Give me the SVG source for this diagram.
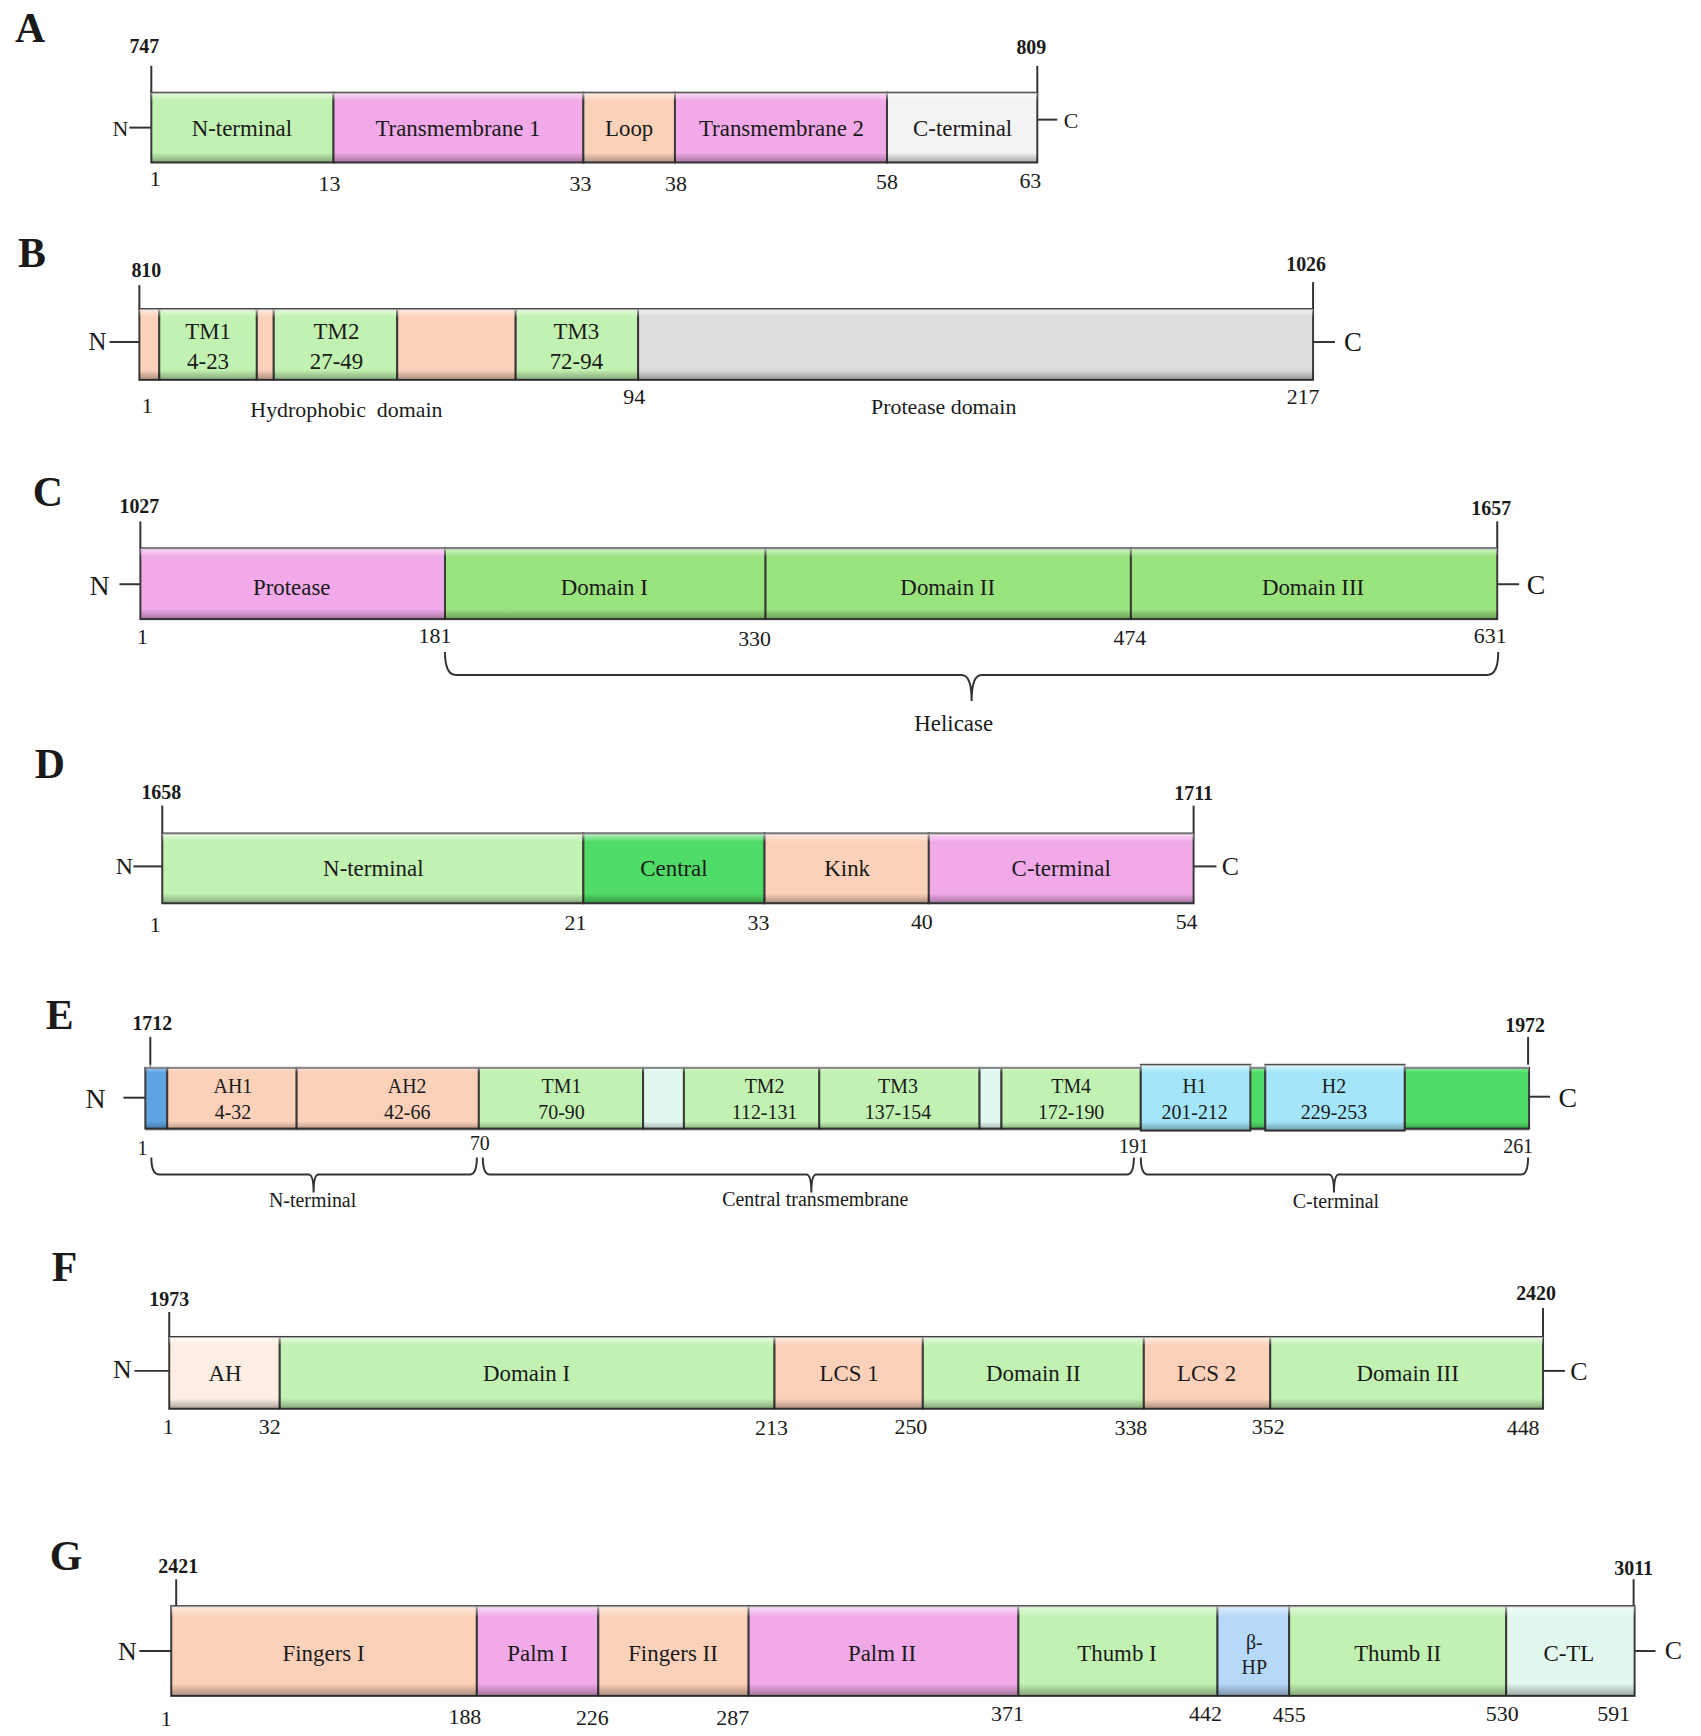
<svg xmlns="http://www.w3.org/2000/svg" width="1701" height="1736" viewBox="0 0 1701 1736">
<defs>
<linearGradient id="bevel" x1="0" y1="0" x2="0" y2="1">
<stop offset="0" stop-color="#ffffff" stop-opacity="0.6"/>
<stop offset="0.12" stop-color="#ffffff" stop-opacity="0"/>
<stop offset="0.86" stop-color="#000000" stop-opacity="0"/>
<stop offset="1" stop-color="#000000" stop-opacity="0.32"/>
</linearGradient>
<style>
text{font-family:"Liberation Serif","Times New Roman",serif;fill:#1a1a1a}
.seg{stroke:#3a3a3a;stroke-width:2}
.bev{fill:url(#bevel);stroke:none}
.ln{stroke:#333;stroke-width:2;fill:none}
.lbl{font-size:23px;text-anchor:middle}
.lbl-s{font-size:20px;text-anchor:middle}
.num{font-size:22px;text-anchor:middle}
.top{font-size:20px;font-weight:bold;text-anchor:middle}
.let{font-size:42px;font-weight:bold}
.nc{text-anchor:middle}
.grn{fill:#c1f2b1}
.pink{fill:#f1a9e9}
.peach{fill:#fcd1b9}
.white{fill:#f3f3f3}
.gray{fill:#dddddd}
.cgrn{fill:#9ae47e}
.dgrn{fill:#4fdc66}
.blue{fill:#5ea3e2}
.pale{fill:#e2f8ee}
.cyan{fill:#a3e6fa}
.lpeach{fill:#fdeee4}
.lblue{fill:#b6d9f9}
</style>
</defs>
<rect x="0" y="0" width="1701" height="1736" fill="#ffffff"/>
<g id="diagram" transform="scale(0.9955 0.997)">

<!-- Panel letters -->
<g id="letters">
<text class="let" x="15" y="42">A</text>
<text class="let" x="18" y="268">B</text>
<text class="let" x="33" y="508">C</text>
<text class="let" x="35" y="780">D</text>
<text class="let" x="46" y="1032">E</text>
<text class="let" x="52" y="1285">F</text>
<text class="let" x="50" y="1575">G</text>
</g>

<!-- Connectors: ticks, terminal lines, braces -->
<g id="connectors">
<line class="ln" x1="152" y1="66" x2="152" y2="93"/>
<line class="ln" x1="1042" y1="66" x2="1042" y2="93"/>
<line class="ln" x1="130" y1="128" x2="152" y2="128"/>
<line class="ln" x1="1042" y1="120" x2="1062" y2="120"/>

<line class="ln" x1="140" y1="286" x2="140" y2="310"/>
<line class="ln" x1="1319" y1="283" x2="1319" y2="310"/>
<line class="ln" x1="110" y1="343" x2="140" y2="343"/>
<line class="ln" x1="1319" y1="343" x2="1341" y2="343"/>

<line class="ln" x1="141" y1="523" x2="141" y2="550"/>
<line class="ln" x1="1504" y1="523" x2="1504" y2="550"/>
<line class="ln" x1="120" y1="586" x2="141" y2="586"/>
<line class="ln" x1="1504" y1="586" x2="1526" y2="586"/>
<path class="ln" d="M447 654 Q447 677 458 677 H966 Q976 677 976 703 Q976 677 986 677 H1494 Q1505 677 1505 654"/>

<line class="ln" x1="163" y1="808" x2="163" y2="836"/>
<line class="ln" x1="1199" y1="808" x2="1199" y2="836"/>
<line class="ln" x1="134" y1="869" x2="163" y2="869"/>
<line class="ln" x1="1199" y1="869" x2="1222" y2="869"/>

<line class="ln" x1="151" y1="1040" x2="151" y2="1071"/>
<line class="ln" x1="1535" y1="1040" x2="1535" y2="1068"/>
<line class="ln" x1="124" y1="1101" x2="146" y2="1101"/>
<line class="ln" x1="1536" y1="1100" x2="1557" y2="1100"/>
<path class="ln" d="M152 1161 Q152 1178 160 1178 H310 Q315 1178 315 1196 Q315 1178 320 1178 H472 Q479 1178 479 1161"/>
<path class="ln" d="M485 1161 Q485 1178 492 1178 H810 Q815 1178 815 1196 Q815 1178 820 1178 H1132 Q1139 1178 1139 1161"/>
<path class="ln" d="M1146 1161 Q1146 1178 1153 1178 H1335 Q1340 1178 1340 1196 Q1340 1178 1345 1178 H1528 Q1535 1178 1535 1161"/>

<line class="ln" x1="170" y1="1316" x2="170" y2="1341"/>
<line class="ln" x1="1550" y1="1312" x2="1550" y2="1341"/>
<line class="ln" x1="135" y1="1375" x2="170" y2="1375"/>
<line class="ln" x1="1550" y1="1375" x2="1572" y2="1375"/>

<line class="ln" x1="177" y1="1584" x2="177" y2="1611"/>
<line class="ln" x1="1641" y1="1584" x2="1641" y2="1611"/>
<line class="ln" x1="140" y1="1656" x2="172" y2="1656"/>
<line class="ln" x1="1642" y1="1656" x2="1663" y2="1656"/>
</g>

<!-- ================= Panel A ================= -->
<g id="A-nterm"><rect class="seg grn" x="152" y="93" width="183" height="70"/><text class="lbl" x="243" y="136">N-terminal</text></g>
<g id="A-tm1"><rect class="seg pink" x="335" y="93" width="251" height="70"/><text class="lbl" x="460" y="136">Transmembrane 1</text></g>
<g id="A-loop"><rect class="seg peach" x="586" y="93" width="92" height="70"/><text class="lbl" x="632" y="136">Loop</text></g>
<g id="A-tm2"><rect class="seg pink" x="678" y="93" width="213" height="70"/><text class="lbl" x="785" y="136">Transmembrane 2</text></g>
<g id="A-cterm"><rect class="seg white" x="891" y="93" width="151" height="70"/><text class="lbl" x="967" y="136">C-terminal</text></g>
<rect class="bev" x="152" y="93" width="890" height="70"/>
<g id="A-labels">
<text class="top" x="145" y="53">747</text>
<text class="top" x="1036" y="54">809</text>
<text class="nc" style="font-size:22px" x="121" y="136">N</text>
<text class="nc" style="font-size:22px" x="1076" y="128">C</text>
<text class="num" x="156" y="187">1</text>
<text class="num" x="331" y="192">13</text>
<text class="num" x="583" y="192">33</text>
<text class="num" x="679" y="192">38</text>
<text class="num" x="891" y="190">58</text>
<text class="num" x="1035" y="189">63</text>
</g>

<!-- ================= Panel B ================= -->
<g id="B-p1"><rect class="seg peach" x="140" y="310" width="20" height="71"/></g>
<g id="B-tm1"><rect class="seg grn" x="160" y="310" width="98" height="71"/><text class="lbl" x="209" y="340">TM1</text><text class="lbl" x="209" y="370">4-23</text></g>
<g id="B-p2"><rect class="seg peach" x="258" y="310" width="17" height="71"/></g>
<g id="B-tm2"><rect class="seg grn" x="275" y="310" width="124" height="71"/><text class="lbl" x="338" y="340">TM2</text><text class="lbl" x="338" y="370">27-49</text></g>
<g id="B-p3"><rect class="seg peach" x="399" y="310" width="119" height="71"/></g>
<g id="B-tm3"><rect class="seg grn" x="518" y="310" width="123" height="71"/><text class="lbl" x="579" y="340">TM3</text><text class="lbl" x="579" y="370">72-94</text></g>
<g id="B-prot"><rect class="seg gray" x="641" y="310" width="678" height="71"/></g>
<rect class="bev" x="140" y="310" width="1179" height="71"/>
<g id="B-labels">
<text class="top" x="147" y="278">810</text>
<text class="top" x="1312" y="272">1026</text>
<text class="nc" style="font-size:25px" x="98" y="351">N</text>
<text class="nc" style="font-size:27px" x="1359" y="352">C</text>
<text class="num" x="148" y="414">1</text>
<text class="num" x="348" y="418" style="white-space:pre" xml:space="preserve">Hydrophobic  domain</text>
<text class="num" x="637" y="405">94</text>
<text class="num" x="948" y="415">Protease domain</text>
<text class="num" x="1309" y="405">217</text>
</g>

<!-- ================= Panel C ================= -->
<g id="C-prot"><rect class="seg pink" x="141" y="550" width="306" height="71"/><text class="lbl" x="293" y="597">Protease</text></g>
<g id="C-d1"><rect class="seg cgrn" x="447" y="550" width="322" height="71"/><text class="lbl" x="607" y="597">Domain I</text></g>
<g id="C-d2"><rect class="seg cgrn" x="769" y="550" width="367" height="71"/><text class="lbl" x="952" y="597">Domain II</text></g>
<g id="C-d3"><rect class="seg cgrn" x="1136" y="550" width="368" height="71"/><text class="lbl" x="1319" y="597">Domain III</text></g>
<rect class="bev" x="141" y="550" width="1363" height="71"/>
<g id="C-labels">
<text class="top" x="140" y="515">1027</text>
<text class="top" x="1498" y="517">1657</text>
<text class="nc" style="font-size:28px" x="100" y="597">N</text>
<text class="nc" style="font-size:28px" x="1543" y="596">C</text>
<text class="num" x="143" y="646">1</text>
<text class="num" x="437" y="645">181</text>
<text class="num" x="758" y="648">330</text>
<text class="num" x="1135" y="647">474</text>
<text class="num" x="1497" y="645">631</text>
<text class="num" style="font-size:23px" x="958" y="733">Helicase</text>
</g>

<!-- ================= Panel D ================= -->
<g id="D-nterm"><rect class="seg grn" x="163" y="836" width="423" height="70"/><text class="lbl" x="375" y="879">N-terminal</text></g>
<g id="D-central"><rect class="seg dgrn" x="586" y="836" width="182" height="70"/><text class="lbl" x="677" y="879">Central</text></g>
<g id="D-kink"><rect class="seg peach" x="768" y="836" width="165" height="70"/><text class="lbl" x="851" y="879">Kink</text></g>
<g id="D-cterm"><rect class="seg pink" x="933" y="836" width="266" height="70"/><text class="lbl" x="1066" y="879">C-terminal</text></g>
<rect class="bev" x="163" y="836" width="1036" height="70"/>
<g id="D-labels">
<text class="top" x="162" y="801">1658</text>
<text class="top" x="1199" y="802">1711</text>
<text class="nc" style="font-size:24px" x="125" y="877">N</text>
<text class="nc" style="font-size:26px" x="1236" y="878">C</text>
<text class="num" x="156" y="935">1</text>
<text class="num" x="578" y="933">21</text>
<text class="num" x="762" y="933">33</text>
<text class="num" x="926" y="932">40</text>
<text class="num" x="1192" y="932">54</text>
</g>

<!-- ================= Panel E ================= -->
<g id="E-blue"><rect class="seg blue" x="146" y="1071" width="22" height="61"/></g>
<g id="E-ah1"><rect class="seg peach" x="168" y="1071" width="130" height="61"/><text class="lbl-s" x="234" y="1096">AH1</text><text class="lbl-s" x="234" y="1122">4-32</text></g>
<g id="E-ah2"><rect class="seg peach" x="298" y="1071" width="183" height="61"/><text class="lbl-s" x="409" y="1096">AH2</text><text class="lbl-s" x="409" y="1122">42-66</text></g>
<g id="E-tm1"><rect class="seg grn" x="481" y="1071" width="165" height="61"/><text class="lbl-s" x="564" y="1096">TM1</text><text class="lbl-s" x="564" y="1122">70-90</text></g>
<g id="E-gap1"><rect class="seg pale" x="646" y="1071" width="41" height="61"/></g>
<g id="E-tm2"><rect class="seg grn" x="687" y="1071" width="136" height="61"/><text class="lbl-s" x="768" y="1096">TM2</text><text class="lbl-s" x="768" y="1122">112-131</text></g>
<g id="E-tm3"><rect class="seg grn" x="823" y="1071" width="161" height="61"/><text class="lbl-s" x="902" y="1096">TM3</text><text class="lbl-s" x="902" y="1122">137-154</text></g>
<g id="E-gap2"><rect class="seg pale" x="984" y="1071" width="22" height="61"/></g>
<g id="E-tm4"><rect class="seg grn" x="1006" y="1071" width="140" height="61"/><text class="lbl-s" x="1076" y="1096">TM4</text><text class="lbl-s" x="1076" y="1122">172-190</text></g>
<g id="E-green1"><rect class="seg dgrn" x="1146" y="1071" width="125" height="61"/></g>
<g id="E-green2"><rect class="seg dgrn" x="1411" y="1071" width="125" height="61"/></g>
<g id="E-h1"><rect class="seg cyan" x="1146" y="1068" width="110" height="66"/><text class="lbl-s" x="1200" y="1096">H1</text><text class="lbl-s" x="1200" y="1122">201-212</text></g>
<g id="E-h2"><rect class="seg cyan" x="1271" y="1068" width="140" height="66"/><text class="lbl-s" x="1340" y="1096">H2</text><text class="lbl-s" x="1340" y="1122">229-253</text></g>
<rect class="bev" x="146" y="1068" width="1390" height="66"/>
<g id="E-labels">
<text class="top" x="153" y="1033">1712</text>
<text class="top" x="1532" y="1035">1972</text>
<text class="nc" style="font-size:28px" x="96" y="1111">N</text>
<text class="nc" style="font-size:28px" x="1575" y="1110">C</text>
<text class="num" style="font-size:20px" x="143" y="1158">1</text>
<text class="num" style="font-size:20px" x="482" y="1153">70</text>
<text class="num" style="font-size:20px" x="1139" y="1156">191</text>
<text class="num" style="font-size:20px" x="1525" y="1156">261</text>
<text class="num" style="font-size:20px" x="314" y="1211">N-terminal</text>
<text class="num" style="font-size:20px" x="819" y="1210">Central transmembrane</text>
<text class="num" style="font-size:20px" x="1342" y="1212">C-terminal</text>
</g>

<!-- ================= Panel F ================= -->
<g id="F-ah"><rect class="seg lpeach" x="170" y="1341" width="111" height="72"/><text class="lbl" x="226" y="1385">AH</text></g>
<g id="F-d1"><rect class="seg grn" x="281" y="1341" width="497" height="72"/><text class="lbl" x="529" y="1385">Domain I</text></g>
<g id="F-lcs1"><rect class="seg peach" x="778" y="1341" width="149" height="72"/><text class="lbl" x="853" y="1385">LCS 1</text></g>
<g id="F-d2"><rect class="seg grn" x="927" y="1341" width="222" height="72"/><text class="lbl" x="1038" y="1385">Domain II</text></g>
<g id="F-lcs2"><rect class="seg peach" x="1149" y="1341" width="127" height="72"/><text class="lbl" x="1212" y="1385">LCS 2</text></g>
<g id="F-d3"><rect class="seg grn" x="1276" y="1341" width="274" height="72"/><text class="lbl" x="1414" y="1385">Domain III</text></g>
<rect class="bev" x="170" y="1341" width="1380" height="72"/>
<g id="F-labels">
<text class="top" x="170" y="1310">1973</text>
<text class="top" x="1543" y="1304">2420</text>
<text class="nc" style="font-size:26px" x="123" y="1382">N</text>
<text class="nc" style="font-size:26px" x="1586" y="1384">C</text>
<text class="num" x="169" y="1438">1</text>
<text class="num" x="271" y="1438">32</text>
<text class="num" x="775" y="1439">213</text>
<text class="num" x="915" y="1438">250</text>
<text class="num" x="1136" y="1439">338</text>
<text class="num" x="1274" y="1438">352</text>
<text class="num" x="1530" y="1439">448</text>
</g>

<!-- ================= Panel G ================= -->
<g id="G-f1"><rect class="seg peach" x="172" y="1611" width="307" height="90"/><text class="lbl" x="325" y="1666">Fingers I</text></g>
<g id="G-p1"><rect class="seg pink" x="479" y="1611" width="122" height="90"/><text class="lbl" x="540" y="1666">Palm I</text></g>
<g id="G-f2"><rect class="seg peach" x="601" y="1611" width="151" height="90"/><text class="lbl" x="676" y="1666">Fingers II</text></g>
<g id="G-p2"><rect class="seg pink" x="752" y="1611" width="271" height="90"/><text class="lbl" x="886" y="1666">Palm II</text></g>
<g id="G-t1"><rect class="seg grn" x="1023" y="1611" width="200" height="90"/><text class="lbl" x="1122" y="1666">Thumb I</text></g>
<g id="G-bhp"><rect class="seg lblue" x="1223" y="1611" width="72" height="90"/><text class="lbl-s" x="1260" y="1654">β-</text><text class="lbl-s" x="1260" y="1679">HP</text></g>
<g id="G-t2"><rect class="seg grn" x="1295" y="1611" width="218" height="90"/><text class="lbl" x="1404" y="1666">Thumb II</text></g>
<g id="G-ctl"><rect class="seg pale" x="1513" y="1611" width="129" height="90"/><text class="lbl" x="1576" y="1666">C-TL</text></g>
<rect class="bev" x="172" y="1611" width="1470" height="90"/>
<g id="G-labels">
<text class="top" x="179" y="1578">2421</text>
<text class="top" x="1641" y="1580">3011</text>
<text class="nc" style="font-size:26px" x="128" y="1665">N</text>
<text class="nc" style="font-size:26px" x="1681" y="1664">C</text>
<text class="num" x="167" y="1731">1</text>
<text class="num" x="467" y="1729">188</text>
<text class="num" x="595" y="1730">226</text>
<text class="num" x="736" y="1730">287</text>
<text class="num" x="1012" y="1726">371</text>
<text class="num" x="1211" y="1726">442</text>
<text class="num" x="1295" y="1727">455</text>
<text class="num" x="1509" y="1726">530</text>
<text class="num" x="1621" y="1726">591</text>
</g>
</g>
</svg>
